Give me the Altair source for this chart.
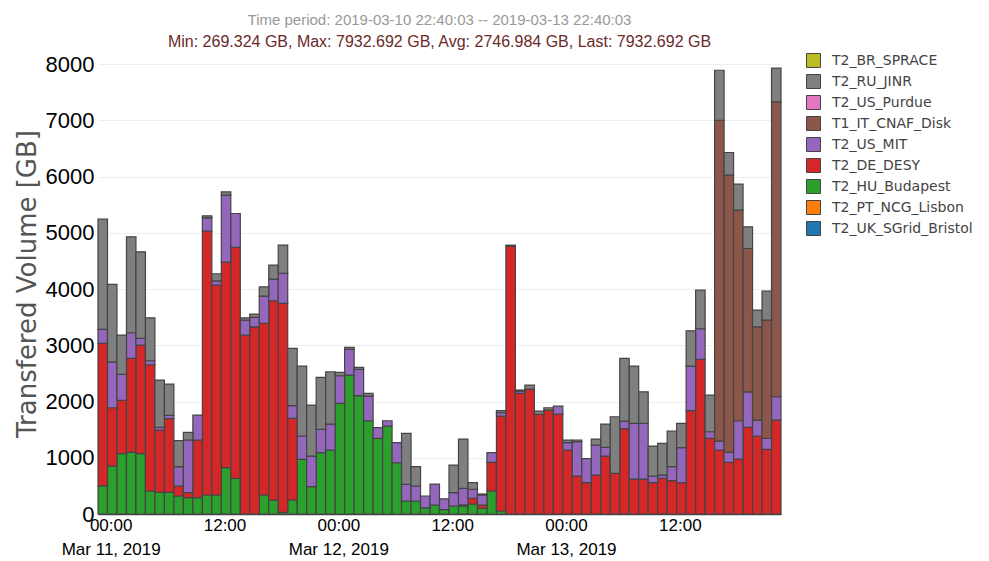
import altair as alt
import pandas as pd

# hourly bins, 72 of them
bin_starts = pd.date_range("2019-03-10 22:40", periods=72, freq="h")

series_order = ["T2_UK_SGrid_Bristol", "T2_PT_NCG_Lisbon", "T2_HU_Budapest", "T2_DE_DESY",
                "T2_US_MIT", "T1_IT_CNAF_Disk", "T2_US_Purdue", "T2_RU_JINR", "T2_BR_SPRACE"]
series_colors = ["#1f77b4", "#ff7f0e", "#2ca02c", "#d62728",
                 "#9467bd", "#8c564b", "#e377c2", "#7f7f7f", "#bcbd22"]

budapest = [500, 853, 1073, 1102, 1073, 409, 385, 385, 320, 290, 290, 338, 338, 824, 634, 0, 0, 338,
            249, 30, 249, 972, 486, 1090, 1138, 1967, 2471, 2104, 1659, 1345, 1564, 912, 231, 231, 110, 160,
            79, 142, 142, 178, 101, 409, 53, 0, 0, 0, 0, 0, 0, 0, 0, 0, 0, 0,
            0, 0, 0, 0, 0, 0, 0, 0, 0, 0, 0, 0, 0, 0, 0, 0, 0, 0]
desy = [2535, 1037, 948, 1665, 1931, 2246, 1108, 1310, 178, 90, 1025, 4693, 3733, 3656, 4107, 3182, 3330, 3052,
        3544, 3715, 1452, 0, 0, 0, 0, 0, 0, 0, 0, 0, 0, 0, 0, 0, 0, 0,
        0, 0, 20, 101, 59, 510, 1689, 4762, 2145, 2222, 1772, 1849, 1778, 1138, 676, 557, 693, 1031,
        723, 1517, 622, 622, 557, 634, 593, 557, 1837, 2750, 1345, 1138, 919, 978, 1541, 1387, 1150, 1671]
mit = [250, 812, 462, 457, 119, 71, 47, 59, 344, 936, 445, 237, 77, 1191, 604, 267, 167, 486,
       385, 534, 225, 415, 545, 415, 462, 492, 457, 468, 439, 190, 95, 356, 296, 267, 210, 373,
       190, 237, 294, 160, 178, 171, 59, 0, 40, 0, 0, 0, 142, 130, 610, 427, 534, 154,
       0, 136, 990, 990, 119, 59, 249, 622, 794, 545, 118, 160, 177, 681, 633, 284, 195, 415]
cnaf = [0] * 65 + [5706, 4931, 3745, 2549, 1659, 2104, 5244]
jinr = [1960, 1381, 699, 1706, 1541, 764, 842, 557, 462, 137, 0, 36, 125, 59, 0, 41, 59, 165,
        249, 503, 1019, 1244, 907, 925, 930, 60, 35, 36, 47, 0, 0, 0, 907, 344, 0, 0,
        0, 492, 877, 118, 18, 0, 36, 20, 20, 71, 59, 41, 0, 47, 30, 0, 106, 415,
        1007, 1114, 1019, 562, 533, 563, 634, 433, 628, 687, 653, 889, 403, 463, 385, 297, 515, 602]
zeros = [0] * 72

values = {
    "T2_UK_SGrid_Bristol": zeros,
    "T2_PT_NCG_Lisbon": zeros,
    "T2_HU_Budapest": budapest,
    "T2_DE_DESY": desy,
    "T2_US_MIT": mit,
    "T1_IT_CNAF_Disk": cnaf,
    "T2_US_Purdue": zeros,
    "T2_RU_JINR": jinr,
    "T2_BR_SPRACE": zeros,
}

rows = []
for k, name in enumerate(series_order):
    for i, v in enumerate(values[name]):
        if v > 0:
            s = bin_starts[i]
            rows.append({
                "start": int(s.value // 10**6),
                "end": int((s + pd.Timedelta(hours=1)).value // 10**6),
                "site": name,
                "value": v,
                "order": k,
            })
df = pd.DataFrame(rows)

def ms(t):
    return int(pd.Timestamp(t).value // 10**6)

x_domain = [ms("2019-03-10 22:40"), ms("2019-03-13 22:40")]
x_ticks = [ms(t) for t in ["2019-03-11 00:00", "2019-03-11 12:00", "2019-03-12 00:00",
                           "2019-03-12 12:00", "2019-03-13 00:00", "2019-03-13 12:00"]]

label_expr = ("utcFormat(datum.value, '%H') == '00' ? "
              "[utcFormat(datum.value, '%H:%M'), utcFormat(datum.value, '%b %-d, %Y')] : "
              "utcFormat(datum.value, '%H:%M')")

chart = alt.Chart(df).transform_stack(
    stack="value", groupby=["start"], as_=["y0", "y1"],
    sort=[alt.SortField("order", order="ascending")]
).mark_bar(stroke="#444444", strokeWidth=1.2).encode(
    x=alt.X("start:T",
            scale=alt.Scale(type="utc", domain=x_domain),
            axis=alt.Axis(values=x_ticks, labelExpr=label_expr, title=None, grid=False,
                          ticks=False, domain=True, domainColor="#444444", domainWidth=1.5,
                          labelFontSize=17, labelColor="#000000", labelFont="Liberation Sans",
                          labelPadding=3, labelLineHeight=24, labelAlign="center",
                          labelOverlap=False, labelBound=False)),
    x2="end:T",
    y=alt.Y("y0:Q",
            scale=alt.Scale(domain=[0, 8200], nice=False),
            axis=alt.Axis(values=[0, 1000, 2000, 3000, 4000, 5000, 6000, 7000, 8000], format="d",
                          title="Transfered Volume [GB]", titleFontSize=26, titleFontWeight="normal",
                          titleColor="#555555", titleFont="DejaVu Sans", titlePadding=5,
                          labelFontSize=22, labelColor="#000000", labelFont="Liberation Sans",
                          labelPadding=4, ticks=False, domain=False,
                          grid=True, gridColor="#eeeeee", gridWidth=1)),
    y2="y1:Q",
    color=alt.Color("site:N",
                    scale=alt.Scale(domain=series_order[::-1], range=series_colors[::-1]),
                    legend=alt.Legend(title=None, orient="none", legendX=708, legendY=0,
                                      symbolType="square", symbolSize=196,
                                      symbolStrokeColor="#444444", symbolStrokeWidth=1,
                                      symbolOpacity=1,
                                      labelFont="DejaVu Sans", labelFontSize=14,
                                      labelColor="#444444", labelOffset=11, rowPadding=2)),
    tooltip=["site:N", "value:Q"],
).properties(
    width=683,
    height=461,
    padding={"left": 6, "top": 5, "right": 5, "bottom": 5},
    title=alt.TitleParams(
        text="Time period: 2019-03-10 22:40:03 -- 2019-03-13 22:40:03",
        subtitle="Min: 269.324 GB, Max: 7932.692 GB, Avg: 2746.984 GB, Last: 7932.692 GB",
        font="Liberation Sans", subtitleFont="Liberation Sans",
        fontSize=15, subtitleFontSize=16, fontWeight="normal",
        color="#999999", subtitleColor="#6b2a2a",
        anchor="middle", offset=3, subtitlePadding=6,
    ),
).configure_view(stroke=None)

chart.save("out.html", embed_options={"renderer": "svg", "actions": False})
